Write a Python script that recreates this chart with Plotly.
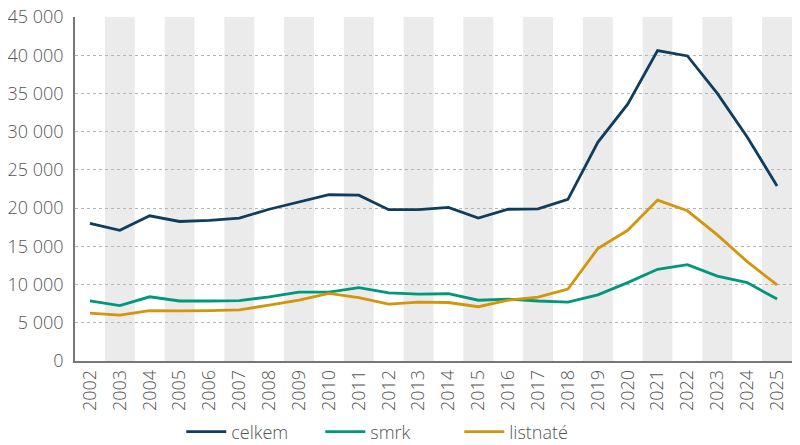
import plotly.graph_objects as go

years = [str(y) for y in range(2002, 2026)]

celkem = [18000, 17100, 19000, 18250, 18400, 18700, 19850, 20800, 21750, 21700,
          19800, 19800, 20100, 18700, 19850, 19900, 21150, 28600, 33600, 40600,
          39900, 35000, 29300, 22900]
smrk = [7850, 7250, 8400, 7850, 7850, 7900, 8400, 9000, 9000, 9600,
        8900, 8750, 8800, 7950, 8100, 7850, 7700, 8650, 10250, 12000,
        12600, 11100, 10250, 8100]
listnate = [6250, 6000, 6600, 6550, 6600, 6700, 7300, 7950, 8850, 8300,
            7450, 7700, 7650, 7100, 7950, 8350, 9400, 14700, 17100, 21050,
            19650, 16500, 13000, 9950]

series = [("celkem", celkem, "#0f3d5e"),
          ("smrk", smrk, "#00977a"),
          ("listnaté", listnate, "#d4940c")]

font = dict(family="Open Sans", size=18, color="#555555", weight=300)

fig = go.Figure()

for name, vals, col in series:
    fig.add_trace(go.Scatter(x=years, y=vals, name=name, mode="lines",
                             line=dict(color=col, width=2.8)))

# sede pruhy za kazdy druhy rok
shapes = []
for i in range(1, len(years), 2):
    shapes.append(dict(type="rect", xref="x", yref="paper",
                       x0=i - 0.5, x1=i + 0.5, y0=0, y1=1,
                       fillcolor="#ebebeb", line_width=0, layer="below"))

# stranka ma okraj 8 px, proto 792 x 437
fig.update_layout(
    width=792, height=437,
    margin=dict(l=67, r=8, t=9, b=84),
    paper_bgcolor="white", plot_bgcolor="white",
    font=font,
    separators=", ",
    shapes=shapes,
    showlegend=True,
    legend=dict(orientation="h", x=0.439, xanchor="center",
                yref="container", y=0.03, yanchor="middle",
                font=font, itemwidth=40, entrywidth=84,
                entrywidthmode="pixels", tracegroupgap=0),
)

fig.update_xaxes(type="category", range=[-0.5, len(years) - 0.5],
                 tickangle=-90, showgrid=False, ticks="",
                 showline=True, linecolor="#777777", linewidth=1.5,
                 tickfont=font, automargin=False)
fig.update_yaxes(range=[0, 45000], dtick=5000, tickformat=",d",
                 showgrid=True, gridcolor="#b5b5b5", griddash="dot", gridwidth=1,
                 zeroline=False, showline=True, linecolor="#777777",
                 linewidth=1.5, ticks="", ticklabelstandoff=6, tickfont=font,
                 ticklabeloverflow="allow", automargin=False)

fig.write_html("out.html")
